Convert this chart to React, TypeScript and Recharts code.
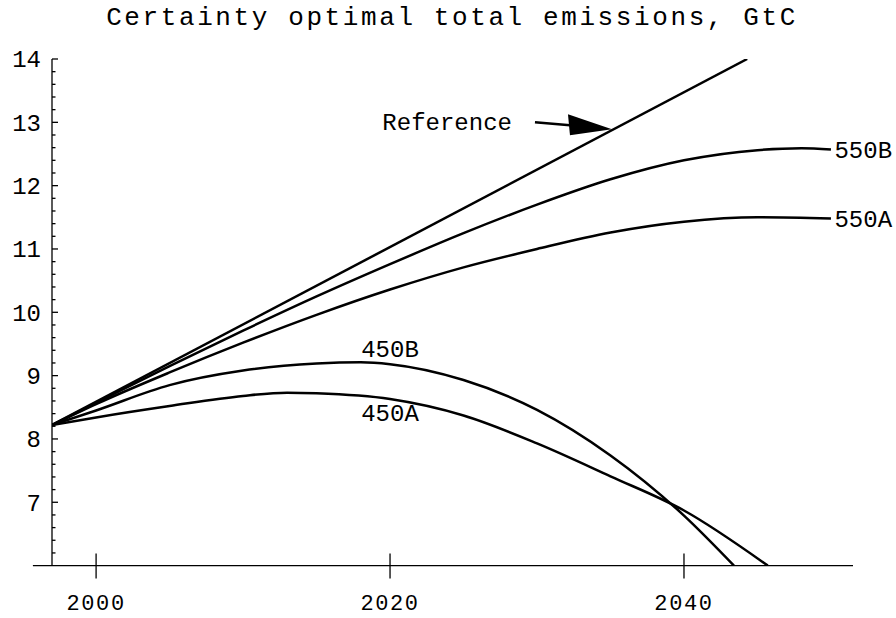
import React from 'react';
import { LineChart, Line, XAxis, YAxis, ReferenceLine, ReferenceDot } from 'recharts';

// years and values, GtC
const refYears = [1997, 2044.3];
const refValues = [8.22, 14.0];

const b550Years = [1997, 2000, 2005, 2010, 2015, 2020, 2025, 2030, 2035, 2040, 2045, 2048, 2050];
const b550Values = [8.22, 8.57, 9.15, 9.71, 10.25, 10.76, 11.25, 11.7, 12.1, 12.4, 12.56, 12.59, 12.57];

const a550Years = [1997, 2000, 2005, 2010, 2015, 2020, 2025, 2030, 2035, 2040, 2045, 2050];
const a550Values = [8.22, 8.55, 9.05, 9.52, 9.96, 10.36, 10.71, 11.0, 11.26, 11.43, 11.5, 11.48];

const b450Years = [1997, 2000, 2005, 2010, 2015, 2018, 2020, 2025, 2030, 2035, 2040, 2043.4];
const b450Values = [8.22, 8.45, 8.85, 9.08, 9.19, 9.21, 9.18, 8.93, 8.46, 7.74, 6.79, 6.0];

const a450Years = [1997, 2000, 2005, 2010, 2013, 2015, 2020, 2025, 2030, 2035, 2040, 2045.7];
const a450Values = [8.22, 8.34, 8.52, 8.68, 8.73, 8.72, 8.63, 8.37, 7.93, 7.41, 6.87, 6.0];

const xTicks = [2000, 2020, 2040];
const yTicks = [7, 8, 9, 10, 11, 12, 13, 14];

const toPoints = (years: number[], values: number[]) =>
  years.map((year, i) => ({ year, value: values[i] }));

// minor ticks every 0.2 between the labelled ones
const yAllTicks: number[] = [];
for (let k = 31; k <= 70; k++) yAllTicks.push(Math.round(k * 20) / 100);

const FONT = "'Liberation Mono', 'Courier New', monospace";

const YTick = (props: any) => {
  const { x, y, payload } = props;
  const major = yTicks.includes(payload.value);
  return (
    <g>
      <line x1={x} y1={y} x2={x + (major ? 6 : 3.5)} y2={y} stroke="#000" strokeWidth={1.3} />
      {major && (
        <text x={x - 11} y={y} dy="0.35em" textAnchor="end" fontFamily={FONT} fontSize={24} fill="#000">
          {payload.value}
        </text>
      )}
    </g>
  );
};

const XTick = (props: any) => {
  const { x, y, payload } = props;
  return (
    <g>
      <line x1={x} y1={y - 12} x2={x} y2={y + 13} stroke="#000" strokeWidth={1.3} />
      <text
        x={x}
        y={y + 44}
        textAnchor="middle"
        fontFamily={FONT}
        fontSize={22}
        letterSpacing={1.6}
        fill="#000"
      >
        {payload.value}
      </text>
    </g>
  );
};

const tag = (label: string, dx: number, anchor: string) => (props: any) => (
  <text
    x={props.cx + dx}
    y={props.cy}
    dy="0.35em"
    textAnchor={anchor}
    fontFamily={FONT}
    fontSize={24}
    fill="#000"
  >
    {label}
  </text>
);

const Arrow = (props: any) => {
  const { cx, cy } = props;
  return (
    <g>
      <line x1={cx - 77} y1={cy - 7} x2={cx - 42} y2={cy - 4} stroke="#000" strokeWidth={2.5} />
      <polygon points={`${cx},${cy} ${cx - 44},${cy - 15} ${cx - 42},${cy + 6}`} fill="#000" />
      <text x={cx - 100} y={cy - 7.5} dy="0.35em" textAnchor="end" fontFamily={FONT} fontSize={24} fill="#000">
        Reference
      </text>
    </g>
  );
};

export default function App() {
  const lineProps = {
    dataKey: 'value',
    stroke: '#000',
    strokeWidth: 2.5,
    dot: false,
    activeDot: false,
    isAnimationActive: false,
  };
  return (
    <div style={{ position: 'absolute', left: 0, top: 0, width: 896, height: 618, background: '#fff' }}>
      <div
        style={{
          position: 'absolute',
          left: 452,
          top: 5,
          transform: 'translateX(-50%)',
          whiteSpace: 'nowrap',
          fontFamily: FONT,
          fontSize: 26,
          lineHeight: '26px',
          letterSpacing: 2.6,
          color: '#000',
        }}
      >
        Certainty optimal total emissions, GtC
      </div>
      <LineChart width={896} height={618} margin={{ top: 59, right: 43, left: 0, bottom: 0 }}>
        <XAxis
          dataKey="year"
          type="number"
          domain={[1997, 2051.5]}
          allowDataOverflow
          ticks={xTicks}
          interval={0}
          axisLine={false}
          tickLine={false}
          tickSize={0}
          tickMargin={0}
          height={52.4}
          tick={<XTick />}
        />
        <YAxis
          type="number"
          domain={[6, 14]}
          allowDataOverflow
          ticks={yAllTicks}
          interval={0}
          axisLine={{ stroke: '#000', strokeWidth: 1.3 }}
          tickLine={false}
          tickSize={0}
          tickMargin={0}
          width={52}
          tick={<YTick />}
        />
        <ReferenceLine
          segment={[{ x: 1995.7, y: 6 }, { x: 2051.5, y: 6 }]}
          ifOverflow="visible"
          stroke="#000"
          strokeWidth={1.3}
        />
        <Line {...lineProps} type="linear" data={toPoints(refYears, refValues)} />
        <Line {...lineProps} type="monotone" data={toPoints(b550Years, b550Values)} />
        <Line {...lineProps} type="monotone" data={toPoints(a550Years, a550Values)} />
        <Line {...lineProps} type="monotone" data={toPoints(b450Years, b450Values)} />
        <Line {...lineProps} type="monotone" data={toPoints(a450Years, a450Values)} />
        <ReferenceDot x={2035.1} y={12.89} r={0} shape={<Arrow />} />
        <ReferenceDot x={2050.1} y={12.57} r={0} shape={tag('550B', 2, 'start')} />
        <ReferenceDot x={2050.1} y={11.48} r={0} shape={tag('550A', 2, 'start')} />
        <ReferenceDot x={2020} y={9.42} r={0} shape={tag('450B', 0, 'middle')} />
        <ReferenceDot x={2020} y={8.41} r={0} shape={tag('450A', 0, 'middle')} />
      </LineChart>
    </div>
  );
}
